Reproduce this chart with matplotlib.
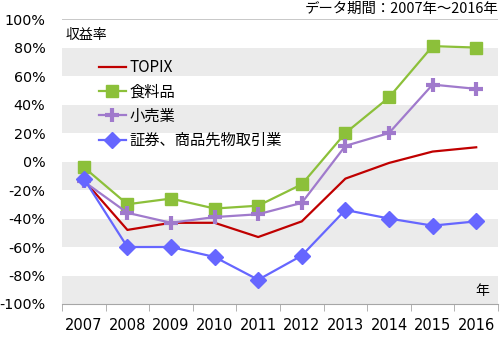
import matplotlib
matplotlib.use("Agg")
import matplotlib.pyplot as plt
from matplotlib.ticker import FixedLocator, NullFormatter

plt.rcParams['font.family'] = ['Noto Sans CJK JP', 'DejaVu Sans']

years = ['2007', '2008', '2009', '2010', '2011', '2012', '2013', '2014', '2015', '2016']
topix = [-13, -48, -43, -43, -53, -42, -12, -1, 7, 10]
food = [-4, -30, -26, -33, -31, -16, 20, 45, 81, 80]
retail = [-14, -36, -43, -39, -37, -29, 11, 20, 54, 51]
securities = [-12, -60, -60, -67, -83, -66, -34, -40, -45, -42]
series_names = ['TOPIX', '食料品', '小売業', '証券、商品先物取引業']
yticks = [100, 80, 60, 40, 20, 0, -20, -40, -60, -80, -100]

fig = plt.figure(figsize=(5, 3.38), dpi=100)
ax = fig.add_axes([0.124, 0.1006, 0.872, 0.843])

x = list(range(len(years)))
ax.set_xlim(-0.5, len(years) - 0.5)
ax.set_ylim(-100, 100)

# alternating bands
for lo in [60, 20, -20, -60, -100]:
    ax.axhspan(lo, lo + 20, color='#EBEBEB', lw=0, zorder=0)
ax.axhline(100, color='#BFBFBF', lw=1.2, zorder=1)

ax.plot(x, topix, color='#C00000', lw=1.6, label=series_names[0], zorder=3)
ax.plot(x, food, color='#8CC03A', lw=1.6, marker='s', ms=8, label=series_names[1], zorder=3)
ax.plot(x, retail, color='#A07ACC', lw=1.6, marker='+', ms=10, mew=3, label=series_names[2], zorder=3)
ax.plot(x, securities, color='#6666FF', lw=1.6, marker='D', ms=8.5, label=series_names[3], zorder=3)

for s in ['top', 'right', 'left']:
    ax.spines[s].set_visible(False)
ax.spines['bottom'].set_color('#A6A6A6')

ax.set_yticks(yticks)
ax.set_yticklabels([f'{v}%' for v in yticks], fontsize=10.3, family='DejaVu Sans')
ax.tick_params(axis='y', length=0, pad=12)

ax.set_xticks(x)
ax.set_xticklabels(years, fontsize=10.5, family='DejaVu Sans')
ax.tick_params(axis='x', which='major', length=0, pad=10)
ax.xaxis.set_minor_locator(FixedLocator([i + 0.5 for i in range(-1, len(years))]))
ax.xaxis.set_minor_formatter(NullFormatter())
ax.tick_params(axis='x', which='minor', length=5, color='#A6A6A6', direction='out')

leg = ax.legend(loc='upper left', bbox_to_anchor=(0.197, 0.825), bbox_transform=fig.transFigure,
                frameon=False, fontsize=11, handlelength=1.8, handletextpad=0.2,
                labelspacing=0.48, borderpad=0, borderaxespad=0)

fig.text(0.132, 0.895, '収益率', fontsize=10, va='center', ha='left')
fig.text(0.978, 0.138, '年', fontsize=10, va='center', ha='right')
fig.text(0.996, 0.975, 'データ期間：2007年～2016年', fontsize=10.4, va='center', ha='right')

fig.savefig('out.png', dpi=100)
